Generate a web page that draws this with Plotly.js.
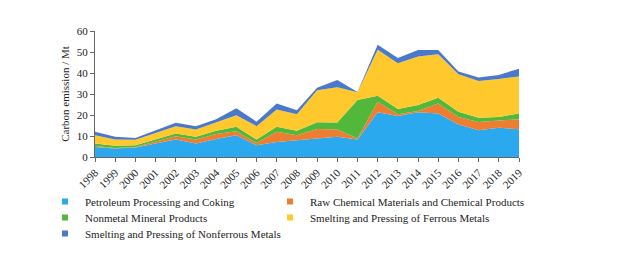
<!DOCTYPE html>
<html>
<head>
<meta charset="utf-8">
<script src="https://cdn.plot.ly/plotly-3.0.1.min.js"></script>
<style>html,body{margin:0;padding:0;background:#fff;}#chart{width:626px;height:259px;}</style>
</head>
<body>
<div id="chart"></div>
<script>
const years = [1998,1999,2000,2001,2002,2003,2004,2005,2006,2007,2008,2009,2010,2011,2012,2013,2014,2015,2016,2017,2018,2019];
const yearLabels = years.map(String);
const seriesNames = [
  "Petroleum Processing and Coking",
  "Raw Chemical Materials and Chemical Products",
  "Nonmetal Mineral Products",
  "Smelting and Pressing of Ferrous Metals",
  "Smelting and Pressing of Nonferrous Metals"
];
const petroleum = [4.8,4.0,4.5,6.4,8.3,6.4,8.6,10.4,5.6,7.2,8.0,8.8,9.6,8.3,21.3,19.5,21.3,20.7,15.5,12.7,13.9,13.2];
const chemical  = [0.4,0.3,0.3,0.8,1.6,1.9,2.3,1.9,1.1,4.8,2.4,4.5,3.5,0.5,5.0,0.8,0.6,4.8,3.6,4.0,3.6,4.8];
const nonmetal  = [1.2,1.0,0.8,1.1,1.3,1.3,1.6,2.1,1.6,2.4,2.1,3.3,3.3,18.3,2.9,2.5,2.9,2.7,2.4,2.0,1.6,2.7];
const ferrous   = [4.0,3.0,2.6,3.2,3.5,3.5,3.9,5.5,6.4,8.2,7.8,15.2,16.8,3.7,21.9,21.9,23.0,20.7,17.9,17.5,18.1,17.6];
const nonferrous= [1.6,1.3,0.8,1.3,1.6,1.6,1.6,3.3,2.1,2.9,2.0,1.2,3.5,0.2,2.3,2.4,3.1,2.0,1.3,1.6,1.9,3.7];
const yTicks = [0,10,20,30,40,50,60];

const colors = ["#2AA9EF","#EE7D31","#52B83B","#FFC92E","#4A79CC"];
const values = [petroleum, chemical, nonmetal, ferrous, nonferrous];
// legend rows: two entries per row, left column narrower, right column wide enough for its text
const legendRow = ["legend","legend","legend2","legend2","legend3"];
const legendW = [180, 250, 180, 250, 250];
const FONT = "Liberation Serif, Times New Roman, serif";

const traces = [];
values.forEach((v, i) => {
  traces.push({
    x: years, y: v, type: "scatter", mode: "lines",
    stackgroup: "one", line: {width: 0, color: colors[i]},
    fillcolor: colors[i], name: seriesNames[i], showlegend: false,
    hoverinfo: "skip"
  });
});
values.forEach((v, i) => {
  traces.push({
    x: [null], y: [null], type: "scatter", mode: "markers",
    marker: {symbol: "square", size: 6, color: colors[i]},
    name: seriesNames[i], showlegend: true,
    legend: legendRow[i], legendwidth: legendW[i]
  });
});

function legendAt(y) {
  return {
    orientation: "h", traceorder: "normal",
    x: -0.118, xanchor: "left", y: y, yanchor: "top",
    entrywidthmode: "pixels",
    font: {family: FONT, size: 11, color: "#222"},
    bgcolor: "rgba(0,0,0,0)", borderwidth: 0, itemwidth: 30
  };
}

const layout = {
  width: 626, height: 259,
  margin: {l: 95, r: 107, t: 31, b: 102, autoexpand: false},
  paper_bgcolor: "#fff", plot_bgcolor: "#fff",
  font: {family: FONT, size: 11, color: "#222"},
  showlegend: true,
  xaxis: {
    range: [1998, 2019], tickvals: years, ticktext: yearLabels,
    tickangle: -45, showgrid: false, zeroline: false,
    showline: true, linecolor: "#666", linewidth: 1,
    ticks: "outside", ticklen: 4, tickcolor: "#666",
    tickfont: {family: FONT, size: 11, color: "#222"},
    automargin: false, fixedrange: true
  },
  yaxis: {
    range: [0, 60], tickvals: yTicks, showgrid: false, zeroline: false,
    showline: true, linecolor: "#666", linewidth: 1,
    ticks: "outside", ticklen: 4, tickcolor: "#666",
    tickfont: {family: FONT, size: 11, color: "#222"},
    title: {text: "Carbon emission / Mt", font: {family: FONT, size: 11, color: "#222"}, standoff: 4},
    automargin: false, fixedrange: true
  },
  legend: legendAt(-0.238),
  legend2: legendAt(-0.365),
  legend3: legendAt(-0.492)
};

Plotly.newPlot("chart", traces, layout, {staticPlot: true, displayModeBar: false});
</script>
</body>
</html>
